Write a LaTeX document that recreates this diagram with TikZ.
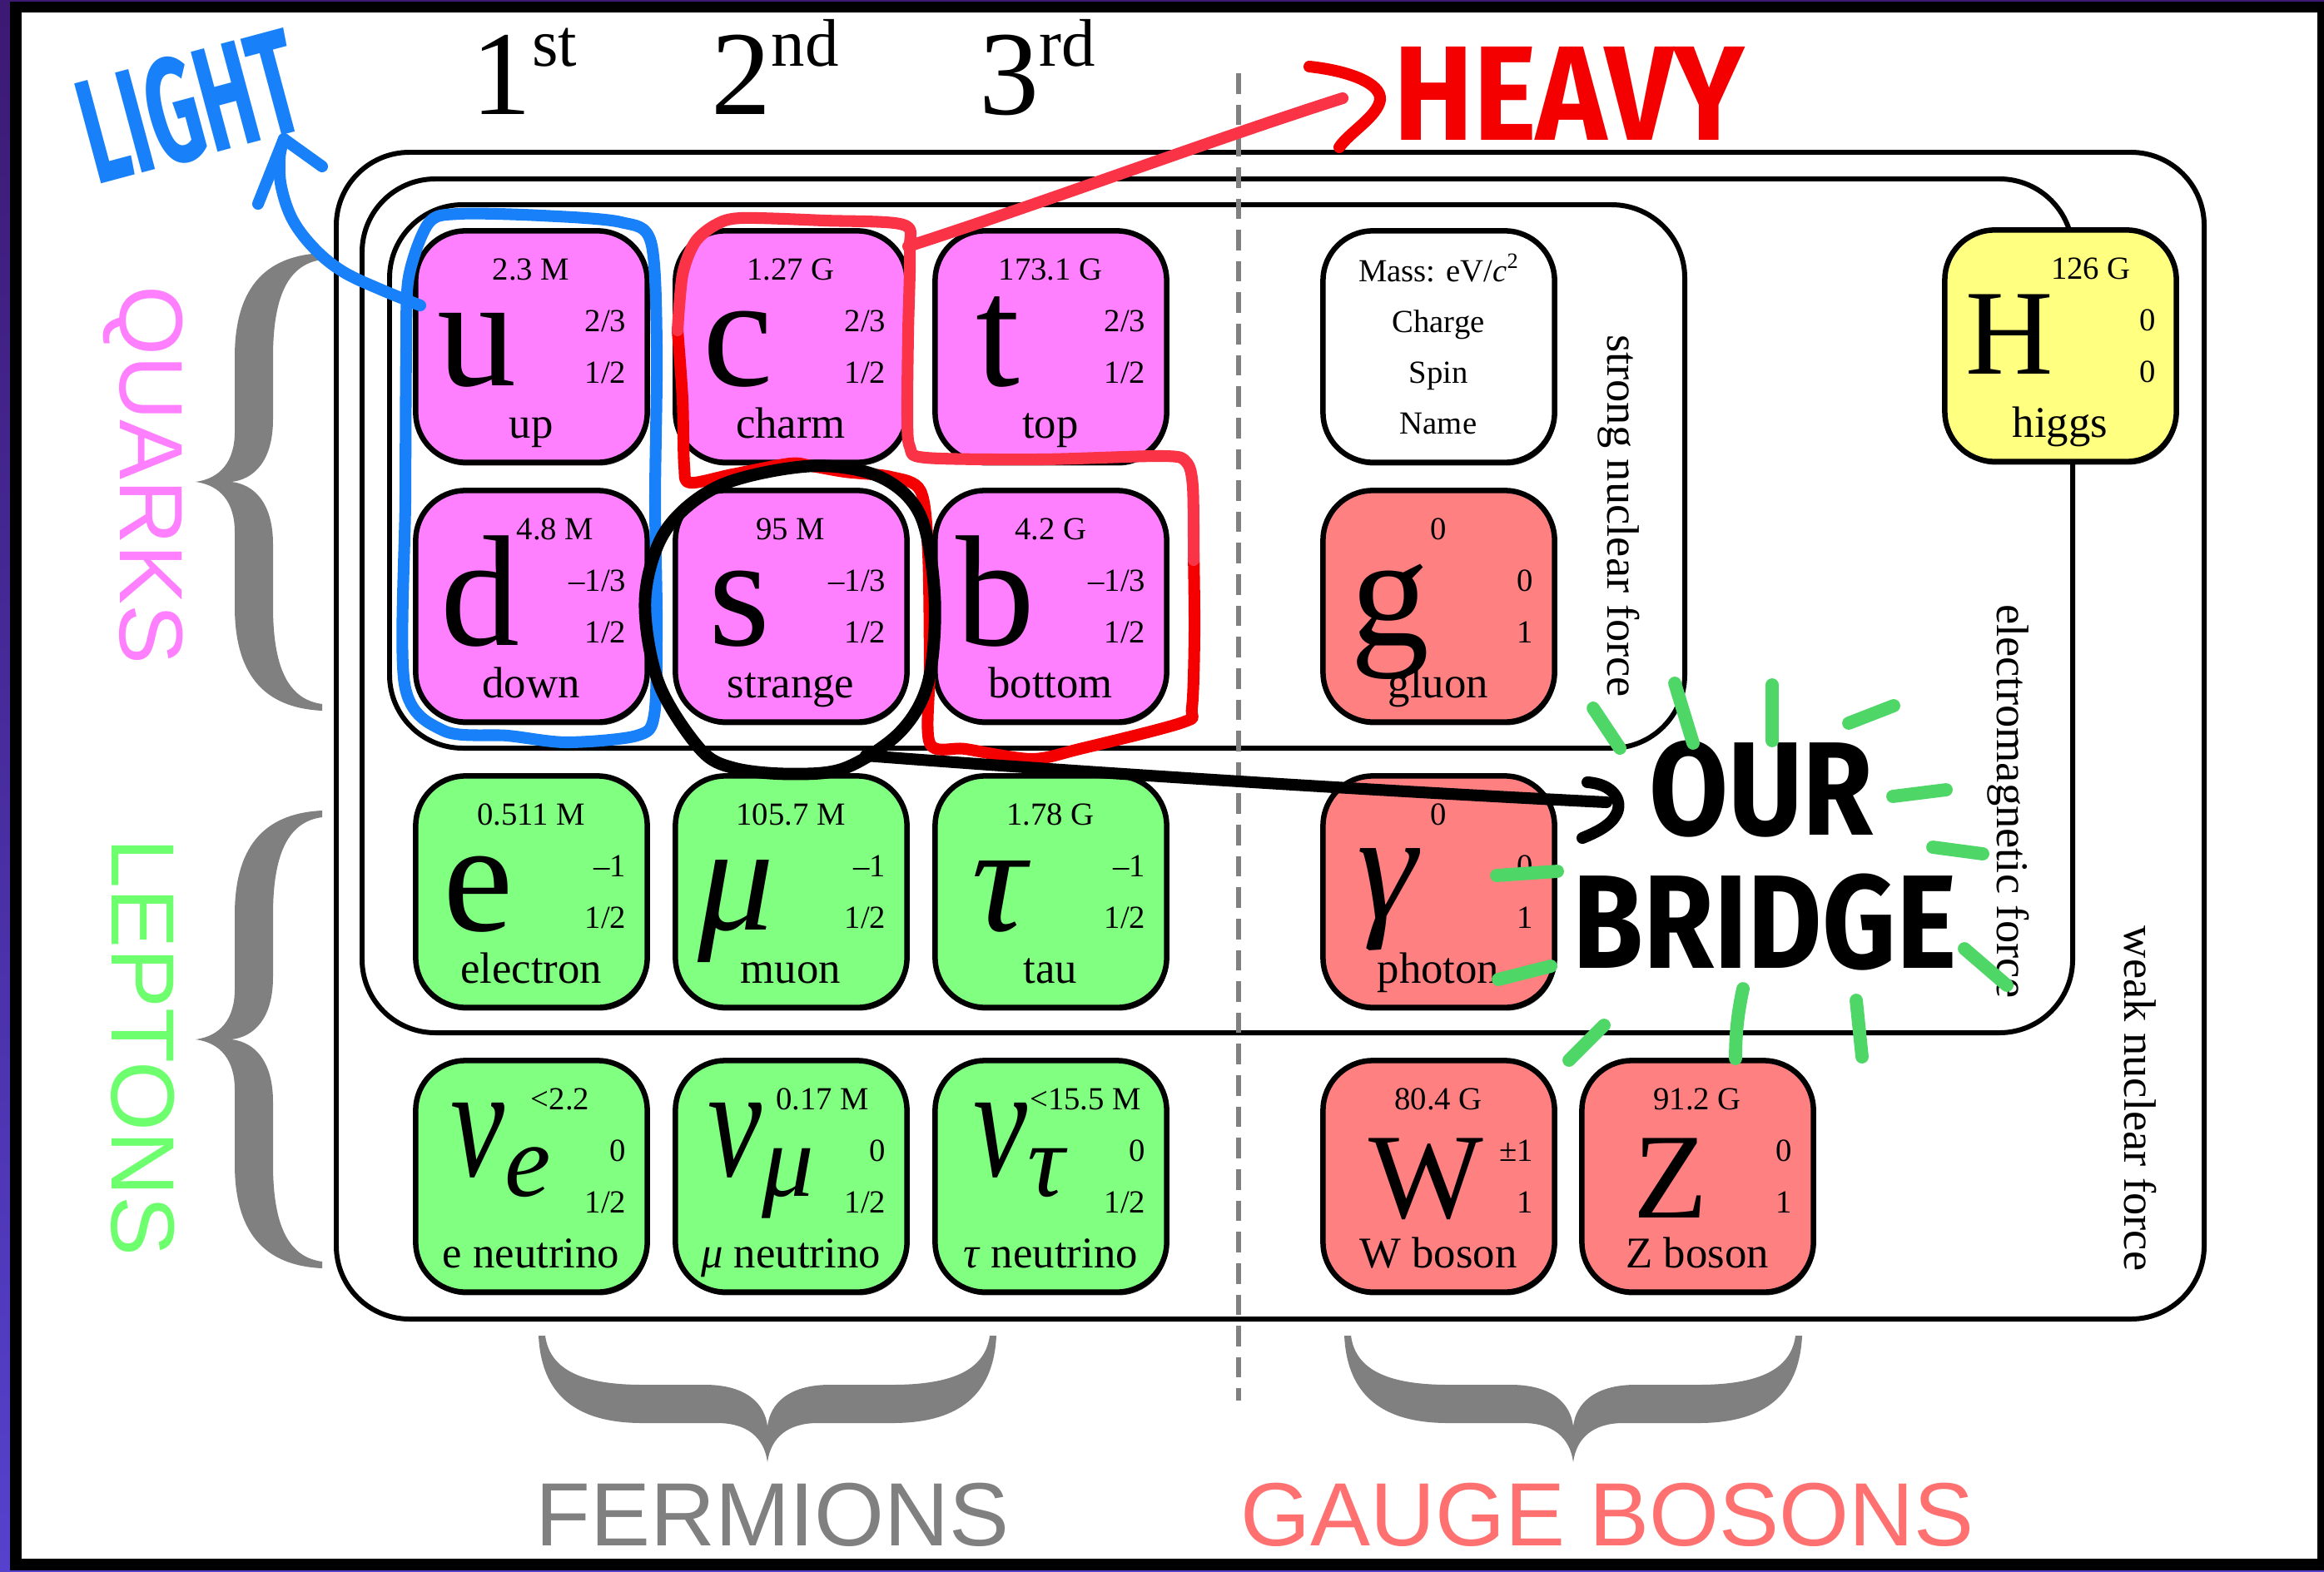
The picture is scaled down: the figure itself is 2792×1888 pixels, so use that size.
\documentclass[tikz,border=0pt]{standalone}
\usepackage{fontspec}
\usepackage{graphicx}
\setmainfont{Liberation Serif}
\newfontfamily\labelsans{Liberation Sans}
\newfontfamily\handlight{Fira Sans}[FakeStretch=0.56]
\newfontfamily\handheavy{Fira Sans}[FakeStretch=0.89]
\newfontfamily\handbridge{Fira Sans}[FakeStretch=0.86]
\usetikzlibrary{shadows}

\definecolor{quarkfill}{RGB}{255,128,255}
\definecolor{leptonfill}{RGB}{128,255,128}
\definecolor{bosonfill}{RGB}{255,128,128}
\definecolor{higgsfill}{RGB}{255,255,128}
\definecolor{bracegray}{RGB}{128,128,128}
\definecolor{quarktext}{RGB}{255,128,255}
\definecolor{leptontext}{RGB}{110,255,110}
\definecolor{bosontext}{RGB}{255,112,112}
\definecolor{bluepen}{RGB}{24,128,248}
\definecolor{redpen}{RGB}{245,0,0}
\definecolor{pinkpen}{RGB}{250,52,70}
\definecolor{greenpen}{RGB}{78,215,102}
\definecolor{frametop}{RGB}{60,25,115}
\definecolor{framebot}{RGB}{85,65,205}

% generation header: numeral with raised ordinal suffix
\newcommand\genlabel[2]{#1\raisebox{16.5pt}{\fontsize{23}{23}\selectfont #2}}
% neutrino symbol with its flavour subscript
\newcommand\nusym[1]{\scalebox{0.8}[1.05]{ν}\raisebox{-7.1pt}{\fontsize{35.5}{35.5}\selectfont #1}}

% one particle card: name, left, top, fill, mass, mass shift, charge, spin, label
\newcommand\particle[9]{%
  \node[cellbox, fill=#4] (#1) at (#2+140.5,#3+140.5) {};
  \node[massstyle] (#1-mass) at (#2+140+#6,#3+60) {#5};
  \node[qnstyle] (#1-charge) at (#2+255,#3+122) {#7};
  \node[qnstyle] (#1-spin) at (#2+255,#3+184) {#8};
  \node[namestyle] (#1-name) at (#2+140,#3+250) {#9};
}

\tikzset{
  bracepic/.pic={
    \fill[bracegray] (152,-275) .. controls (90,-272) and (47,-240) .. (47,-150)
      -- (47,-60) .. controls (47,-25) and (30,-4) .. (0,0)
      .. controls (30,4) and (47,25) .. (47,60) -- (47,150)
      .. controls (47,240) and (90,272) .. (152,275) -- (152,267)
      .. controls (115,262) and (93,230) .. (93,150) -- (93,75)
      .. controls (93,25) and (70,3) .. (43,0)
      .. controls (70,-3) and (93,-25) .. (93,-75) -- (93,-150)
      .. controls (93,-230) and (115,-262) .. (152,-267) -- cycle;
  }
}

\begin{document}
\begin{tikzpicture}[x=0.01cm, y=-0.01cm,
  cellbox/.style={draw=black, line width=1.85pt, rounded corners=17pt,
    minimum width=2.78cm, minimum height=2.78cm, inner sep=0pt,
    drop shadow={shadow xshift=0.5pt, shadow yshift=-1.1pt, fill=black, opacity=0.85}},
  massstyle/.style={anchor=base, inner sep=0pt, font=\fontsize{11}{11}\selectfont},
  qnstyle/.style={anchor=base east, inner sep=0pt, font=\fontsize{11}{11}\selectfont},
  namestyle/.style={anchor=base, inner sep=0pt, font=\fontsize{15}{15}\selectfont},
  symlow/.style={anchor=base, inner sep=0pt, font=\fontsize{54}{54}\selectfont},
  symcap/.style={anchor=base, inner sep=0pt, font=\fontsize{41.5}{41.5}\selectfont},
  symgreek/.style={anchor=base, inner sep=0pt, font=\fontsize{52}{52}\selectfont\itshape},
  genstyle/.style={anchor=base, inner sep=0pt, font=\fontsize{41}{41}\selectfont},
  forcebox/.style={draw=black, line width=1.7pt, rounded corners=25pt},
  forcelabel/.style={rotate=-90, inner sep=0pt, font=\fontsize{15.5}{15.5}\selectfont},
  grouplabel/.style={inner sep=0pt, font=\labelsans\fontsize{30.7}{30.7}\selectfont},
  divider/.style={draw=bracegray, line width=1.5pt, dash pattern=on 7pt off 3.7pt},
  handtext/.style={inner sep=0pt},
  pen/.style={line width=4pt, line cap=round, line join=round},
  dashpen/.style={draw=greenpen, line width=4.5pt, line cap=round}
]
\useasboundingbox (0,0) rectangle (2792,1888);

% frame
\shade[top color=frametop, bottom color=framebot] (0,0) rectangle (2792,1888);
\fill[black] (12,2) rectangle (2792,1887);
\fill[white] (26,15) rectangle (2784,1873);

% generation headers
\node[genstyle] (gen1) at (630,138) {\genlabel{1}{st}};
\node[genstyle] (gen2) at (931,138) {\genlabel{2}{nd}};
\node[genstyle] (gen3) at (1246,138) {\genlabel{3}{rd}};

% force boxes
\draw[forcebox] (404,183) rectangle (2648,1585);
\draw[forcebox] (435,215) rectangle (2490,1241);
\draw[forcebox] (468,246) rectangle (2024,899);

\node[forcelabel] (strong-label) at (1945,620) {strong nuclear force};
\node[forcelabel] (em-label) at (2413,963) {electromagnetic force};
\node[forcelabel] (weak-label) at (2571,1320) {weak nuclear force};

% fermion / boson divider
\coordinate (divtop) at (1488,88);
\coordinate (divbot) at (1488,1683);
\draw[divider] (divtop) -- (divbot);

% braces and group labels
\pic at (235,579) {bracepic};
\pic at (235,1249) {bracepic};
\pic[rotate=90] at (922,1757) {bracepic};
\pic[rotate=90] at (1890,1757) {bracepic};

\node[grouplabel, text=quarktext, rotate=-90] (quarks) at (172,571) {QUARKS};
\node[grouplabel, text=leptontext, rotate=-90] (leptons) at (172,1258) {LEPTONS};
\node[grouplabel, text=bracegray, anchor=base] (fermions) at (928,1857) {FERMIONS};
\node[grouplabel, text=bosontext, anchor=base] (bosons) at (1931,1857) {GAUGE BOSONS};

% particle cards
\particle{u}{498}{276}{quarkfill}{2.3 M}{0}{2/3}{1/2}{up}
\particle{c}{810}{276}{quarkfill}{1.27 G}{0}{2/3}{1/2}{charm}
\particle{t}{1122}{276}{quarkfill}{173.1 G}{0}{2/3}{1/2}{top}
\particle{d}{498}{588}{quarkfill}{4.8 M}{29}{–1/3}{1/2}{down}
\particle{s}{810}{588}{quarkfill}{95 M}{0}{–1/3}{1/2}{strange}
\particle{b}{1122}{588}{quarkfill}{4.2 G}{0}{–1/3}{1/2}{bottom}
\particle{e}{498}{931}{leptonfill}{0.511 M}{0}{–1}{1/2}{electron}
\particle{mu}{810}{931}{leptonfill}{105.7 M}{0}{–1}{1/2}{muon}
\particle{tau}{1122}{931}{leptonfill}{1.78 G}{0}{–1}{1/2}{tau}
\particle{nue}{498}{1273}{leptonfill}{<2.2}{35}{0}{1/2}{e neutrino}
\particle{numu}{810}{1273}{leptonfill}{0.17 M}{38}{0}{1/2}{\textit{μ} neutrino}
\particle{nutau}{1122}{1273}{leptonfill}{<15.5 M}{42}{0}{1/2}{\textit{τ} neutrino}
\particle{g}{1588}{588}{bosonfill}{0}{0}{0}{1}{gluon}
\particle{gamma}{1588}{931}{bosonfill}{0}{0}{0}{1}{photon}
\particle{W}{1588}{1273}{bosonfill}{80.4 G}{0}{±1}{1}{W boson}
\particle{Z}{1899}{1273}{bosonfill}{91.2 G}{0}{0}{1}{Z boson}
\particle{H}{2335}{275}{higgsfill}{126 G}{37}{0}{0}{higgs}

% symbols
\node[symlow] (u-sym) at (573,463) {u};
\node[symlow] (c-sym) at (887,463) {c};
\node[symlow] (t-sym) at (1199,463) {t};
\node[symlow] (d-sym) at (577,775) {d};
\node[symlow] (s-sym) at (888,775) {s};
\node[symlow] (b-sym) at (1196,775) {b};
\node[symlow] (e-sym) at (575,1118) {e};
\node[symgreek] (mu-sym) at (884,1117) {μ};
\node[symgreek] (tau-sym) at (1200,1118) {τ};
\node[symgreek] (nue-sym) at (602,1413) {\nusym{e}};
\node[symgreek] (numu-sym) at (914,1413) {\nusym{μ}};
\node[symgreek] (nutau-sym) at (1224,1413) {\nusym{τ}};
\node[symlow] (g-sym) at (1670,775) {g};
\node[symgreek] (gamma-sym) at (1666,1103) {γ};
\node[symcap] (W-sym) at (1713,1463) {W};
\node[symcap] (Z-sym) at (2007,1463) {Z};
\node[symcap] (H-sym) at (2414,449) {H};

% legend card
\node[cellbox, fill=white] (legend) at (1728.5,416.5) {};
\node[massstyle] (legend-mass) at (1728,338) {Mass: eV/\textit{c}\raisebox{4.5pt}{\fontsize{7.5}{7.5}\selectfont 2}};
\node[massstyle] (legend-charge) at (1728,399) {Charge};
\node[massstyle] (legend-spin) at (1728,460) {Spin};
\node[massstyle] (legend-name) at (1728,521) {Name};

% ---- marker notes ----
% light quarks
\draw[pen, draw=bluepen] plot[smooth cycle, tension=0.5] coordinates {
  (491,333) (515,268) (551,257) (650,259) (746,267) (782,291) (789,416)
  (787,600) (789,747) (786,859) (765,884) (681,892) (610,884) (533,878)
  (486,822) (487,600) (488,420)};
\coordinate (light-from) at (505,367);
\coordinate (light-tip) at (341,167);
\draw[pen, draw=bluepen] plot[smooth, tension=0.6] coordinates {
  (light-from) (460,349) (413,327) (379,300) (352,265) (338,225) (336,190) (light-tip)};
\draw[pen, draw=bluepen] (310,245) -- (light-tip) -- (387,200);
\node[handtext, text=bluepen, rotate=15, font=\handlight\bfseries\fontsize{51}{51}\selectfont] (light) at (228,128) {LIGHT};

% heavy quarks
\draw[pen, draw=redpen] plot[smooth, tension=0.5] coordinates {
  (1434,665) (1435,760) (1432,850) (1421,868) (1297,900) (1239,912) (1160,900)
  (1117,893) (1117,800) (1115,665) (1106,590) (1070,573) (1015,567) (975,560)
  (949,557) (880,570) (829,580) (822,560) (820,480) (814,397)};
\draw[pen, draw=pinkpen] plot[smooth, tension=0.5] coordinates {
  (814,397) (820,330) (835,291) (860,270) (891,262) (990,265) (1085,270)
  (1093,300) (1091,400) (1090,500) (1093,537) (1112,550) (1250,552) (1397,548)
  (1425,555) (1433,585) (1434,673)};
\coordinate (heavy-from) at (1091,296);
\coordinate (heavy-tip) at (1613,118);
\draw[pen, draw=pinkpen] (heavy-from) .. controls (1250,245) and (1450,170) .. (heavy-tip);
\draw[pen, draw=redpen] (1573,80) .. controls (1620,85) and (1660,100) .. (1658,120)
  .. controls (1655,140) and (1620,160) .. (1609,177);
\node[handtext, text=redpen, font=\handheavy\bfseries\fontsize{46}{46}\selectfont] (heavy) at (1885,112) {HEAVY};

% strange quark and the bridge
\draw[pen, line width=4.2pt] plot[smooth cycle, tension=0.55] coordinates {
  (974,560) (1057,573) (1106,620) (1123,720) (1115,820) (1081,880) (1015,923)
  (949,930) (882,923) (841,900) (791,820) (775,720) (800,637) (866,583)};
\coordinate (bridge-from) at (1040,908);
\coordinate (bridge-tip) at (1930,964);
\draw[pen] (bridge-from) .. controls (1300,928) and (1650,950) .. (bridge-tip);
\draw[pen] (1907,940) .. controls (1938,942) and (1950,962) .. (1942,978)
  .. controls (1935,992) and (1918,1000) .. (1901,1007);
\node[handtext, font=\handbridge\bfseries\fontsize{45.5}{45.5}\selectfont] (our) at (2116,948) {OUR};
\node[handtext, font=\handbridge\bfseries\fontsize{45.5}{45.5}\selectfont] (bridge) at (2120,1108) {BRIDGE};

% sparkle marks
\draw[dashpen] (1914,851) -- (1946,899);
\draw[dashpen] (2012,821) -- (2034,893);
\draw[dashpen] (2129,823) -- (2129,890);
\draw[dashpen] (2221,869) -- (2275,848);
\draw[dashpen] (2274,957) -- (2338,949);
\draw[dashpen] (2322,1018) -- (2382,1026);
\draw[dashpen] (2360,1140) -- (2411,1184);
\draw[dashpen] (2230,1202) -- (2237,1270);
\draw[dashpen] (2094,1188) .. controls (2087,1220) and (2085,1245) .. (2085,1272);
\draw[dashpen] (1927,1232) -- (1885,1274);
\draw[dashpen] (1798,1052) -- (1871,1047);
\draw[dashpen] (1800,1177) -- (1863,1161);
\end{tikzpicture}
\end{document}
